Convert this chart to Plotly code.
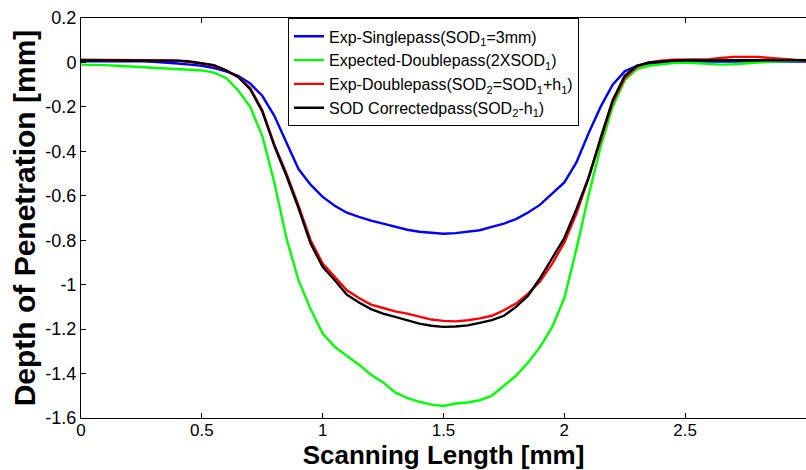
import plotly.graph_objects as go

x = [round(i * 0.05, 2) for i in range(61)]

single = [0.005, 0.005, 0.008, 0.008, 0.008, 0.005, 0.003, 0.0, -0.005, -0.01,
          -0.015, -0.025, -0.04, -0.06, -0.095, -0.15, -0.24, -0.36, -0.48, -0.55,
          -0.605, -0.645, -0.676, -0.695, -0.712, -0.725, -0.738, -0.753, -0.762, -0.768,
          -0.771, -0.768, -0.763, -0.755, -0.74, -0.725, -0.705, -0.675, -0.64, -0.59,
          -0.54, -0.45, -0.32, -0.2, -0.1, -0.04, -0.015, -0.005, 0.0, 0.003,
          0.005, 0.005, 0.005, 0.003, 0.003, 0.003, 0.002, 0.002, 0.002, 0.003, 0.004]

expected = [-0.01, -0.01, -0.012, -0.015, -0.018, -0.02, -0.022, -0.025, -0.028, -0.032,
            -0.036, -0.046, -0.07, -0.125, -0.2, -0.33, -0.54, -0.79, -0.98, -1.11,
            -1.22, -1.28, -1.32, -1.36, -1.405, -1.44, -1.485, -1.51, -1.527, -1.54,
            -1.546, -1.535, -1.53, -1.52, -1.5, -1.455, -1.41, -1.35, -1.28, -1.19,
            -1.06, -0.84, -0.6, -0.38, -0.2, -0.08, -0.03, -0.015, -0.008, -0.003,
            0.0, -0.003, -0.008, -0.01, -0.008, -0.003, 0.0, 0.003, 0.005, 0.008, 0.01]

double_exp = [0.012, 0.012, 0.012, 0.012, 0.012, 0.011, 0.01, 0.009, 0.008, 0.003,
              -0.005, -0.015, -0.035, -0.065, -0.115, -0.215, -0.37, -0.5, -0.645, -0.8,
              -0.905, -0.965, -1.025, -1.06, -1.09, -1.105, -1.12, -1.13, -1.145, -1.157,
              -1.163, -1.165, -1.16, -1.152, -1.14, -1.115, -1.085, -1.04, -0.985, -0.905,
              -0.81, -0.68, -0.52, -0.35, -0.18, -0.07, -0.02, 0.0, 0.008, 0.012,
              0.012, 0.012, 0.015, 0.02, 0.025, 0.025, 0.025, 0.02, 0.015, 0.012, 0.01]

corrected = [0.01, 0.01, 0.01, 0.01, 0.01, 0.01, 0.01, 0.009, 0.008, 0.004,
             -0.003, -0.012, -0.035, -0.065, -0.12, -0.22, -0.375, -0.51, -0.655, -0.815,
             -0.92, -0.98, -1.045, -1.08, -1.11, -1.13, -1.145, -1.16, -1.175, -1.185,
             -1.19, -1.188, -1.183, -1.172, -1.16, -1.14, -1.1, -1.05, -0.97, -0.88,
             -0.79, -0.66, -0.52, -0.34, -0.17, -0.06, -0.015, 0.0, 0.005, 0.008,
             0.01, 0.01, 0.01, 0.01, 0.01, 0.01, 0.01, 0.01, 0.01, 0.01, 0.01]

names = ["Exp-Singlepass(SOD<sub>1</sub>=3mm)",
         "Expected-Doublepass(2XSOD<sub>1</sub>)",
         "Exp-Doublepass(SOD<sub>2</sub>=SOD<sub>1</sub>+h<sub>1</sub>)",
         "SOD Correctedpass(SOD<sub>2</sub>-h<sub>1</sub>)"]
colors = ["#0000FF", "#00FF00", "#FF0000", "#000000"]
series = [single, expected, double_exp, corrected]

x_ticks = [0, 0.5, 1, 1.5, 2, 2.5, 3]
x_tick_text = ["0", "0.5", "1", "1.5", "2", "2.5", "3"]
y_ticks = [0.2, 0, -0.2, -0.4, -0.6, -0.8, -1, -1.2, -1.4, -1.6]
y_tick_text = ["0.2", "0", "-0.2", "-0.4", "-0.6", "-0.8", "-1", "-1.2", "-1.4", "-1.6"]

FONT = "Arial, Liberation Sans, Helvetica, sans-serif"

fig = go.Figure()
for n, c, s in zip(names, colors, series):
    fig.add_trace(go.Scatter(x=x, y=s, mode="lines", name=n,
                             line=dict(color=c, width=2.4)))

fig.update_layout(
    width=806, height=470,
    margin=dict(l=81, r=0, t=18, b=52),
    paper_bgcolor="white", plot_bgcolor="white",
    font=dict(family=FONT, color="black", size=18),
    showlegend=True,
    legend=dict(x=0.2855, y=0.999, xanchor="left", yanchor="top",
                bordercolor="black", borderwidth=1, bgcolor="white",
                font=dict(size=16, family=FONT), tracegroupgap=0,
                itemwidth=30),
    xaxis=dict(range=[0, 3], tickvals=x_ticks, ticktext=x_tick_text,
               showgrid=False, zeroline=False, showline=True, linecolor="black",
               linewidth=1, mirror="allticks", ticks="inside", ticklen=5,
               tickcolor="black", tickfont=dict(size=17), ticklabelstandoff=-3,
               title=dict(text="<b>Scanning Length [mm]</b>", font=dict(size=26), standoff=5)),
    yaxis=dict(range=[-1.6, 0.2], tickvals=y_ticks, ticktext=y_tick_text,
               showgrid=False, zeroline=False, showline=True, linecolor="black",
               linewidth=1, mirror=False, ticks="inside", ticklen=5,
               tickcolor="black", tickfont=dict(size=18),
               title=dict(text="<b>Depth of Penetration [mm]</b>", font=dict(size=30), standoff=0)),
    yaxis2=dict(range=[-1.6, 0.2], tickvals=y_ticks, overlaying="y", side="right",
                showgrid=False, zeroline=False, showline=False, ticks="inside",
                ticklen=5, tickcolor="black", showticklabels=False),
)

fig.write_html("out.html")
